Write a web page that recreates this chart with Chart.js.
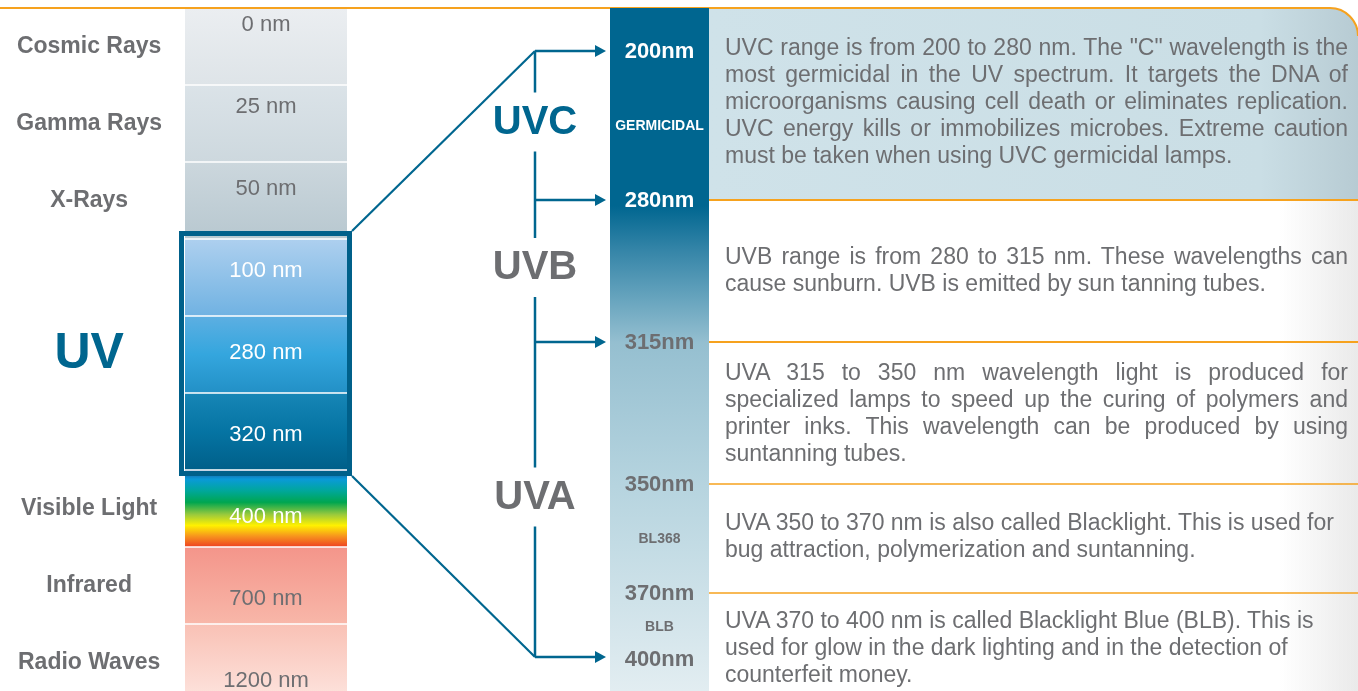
<!DOCTYPE html>
<html>
<head>
<meta charset="utf-8">
<script src="https://cdn.jsdelivr.net/npm/chart.js@4.4.1/dist/chart.umd.min.js"></script>
<style>
html,body{margin:0;padding:0;width:1358px;height:691px;overflow:hidden;background:#fff;}
#wrapA{position:absolute;left:0;top:0;width:1358px;height:701px;z-index:1;}
#wrapB{position:absolute;left:0;top:0;width:1358px;height:691px;z-index:2;}
.desc{position:absolute;left:725px;width:623px;font-family:'Liberation Sans',Arial,sans-serif;font-size:23px;line-height:27px;color:#6d6e71;z-index:3;}
.desc .j{text-align:justify;text-align-last:justify;}
.desc .l{text-align:left;}
</style>
</head>
<body>
<div id="wrapA"><canvas id="cA"></canvas></div>
<div id="wrapB"><canvas id="cB"></canvas></div>
<div id="texts"></div>
<script>
// ---------------- DATA ----------------
const spectrumBands = ['Cosmic Rays','Gamma Rays','X-Rays','UV','UV','UV','Visible Light','Infrared','Radio Waves'];
const bandWavelengths = ['0 nm','25 nm','50 nm','100 nm','280 nm','320 nm','400 nm','700 nm','1200 nm'];
const bandFill = [1,1,1,1,1,1,1,1,1];

const uvBandNames = ['UVC','UVB','UVA','UVA','UVA'];
const uvBandRanges = [[200,280],[280,315],[315,350],[350,370],[370,400]];
const uvTickValues = [200,280,315,350,370,400];
const uvTickLabels = ['200nm','280nm','315nm','350nm','370nm','400nm'];
const uvSubLabels = ['GERMICIDAL','BL368','BLB'];
const uvGroupNames = ['UVC','UVB','UVA'];

const uvcDescription = [
  'UVC range is from 200 to 280 nm. The "C" wavelength is the',
  'most germicidal in the UV spectrum. It targets the DNA of',
  'microorganisms causing cell death or eliminates replication.',
  'UVC energy kills or immobilizes microbes. Extreme caution',
  'must be taken when using UVC germicidal lamps.'
];
const uvbDescription = [
  'UVB range is from 280 to 315 nm. These wavelengths can',
  'cause sunburn. UVB is emitted by sun tanning tubes.'
];
const uva1Description = [
  'UVA 315 to 350 nm wavelength light is produced for',
  'specialized lamps to speed up the curing of polymers and',
  'printer inks. This wavelength can be produced by using',
  'suntanning tubes.'
];
const blDescription = [
  'UVA 350 to 370 nm is also called Blacklight. This is used for',
  'bug attraction, polymerization and suntanning.'
];
const blbDescription = [
  'UVA 370 to 400 nm is called Blacklight Blue (BLB). This is',
  'used for glow in the dark lighting and in the detection of',
  'counterfeit money.'
];

// ---------------- STYLE / LAYOUT ----------------
const FONT = "'Liberation Sans', Arial, sans-serif";
const GRAY = '#6d6e71';
const BLUE = '#00668f';
const ORANGE = '#f6a21e';
const bandColors = [
  [[0,'#ebeef1'],[1,'#dee4e8']],
  [[0,'#dbe3e8'],[1,'#cdd8de']],
  [[0,'#ccd7dd'],[1,'#b8c8d0']],
  [[0,'#aed0ef'],[1,'#70b2e2']],
  [[0,'#5dafe2'],[0.5,'#34a6de'],[1,'#2290c6']],
  [[0,'#1786b6'],[0.5,'#0574a3'],[1,'#005f89']],
  [[0,'#1d4f95'],[0.12,'#0a9ad8'],[0.27,'#00a79b'],[0.42,'#00a650'],[0.58,'#9bca3c'],[0.72,'#fff100'],[0.86,'#f7941d'],[1,'#ee4023']],
  [[0,'#f4958a'],[1,'#f8b7a9']],
  [[0,'#f9c1b5'],[1,'#fde4de']]
];
const whiteLabelBands = [3,4,5,6];
const uvRowHeights = [192,142,142,109,98];
const columnStops = [[0,'#006690'],[0.29,'#006690'],[0.355,'#3585a8'],[0.43,'#6aa6bf'],[0.49,'#95bfd0'],[0.70,'#b6d4df'],[1,'#e2edf1']];
const descJustify = [true,true,true,false,false];
const descTops = [33.5,242.5,358.5,508.5,606.5];

// ---------------- DESCRIPTIONS (HTML text) ----------------
const descs = [uvcDescription,uvbDescription,uva1Description,blDescription,blbDescription];
const textsEl = document.getElementById('texts');
descs.forEach((lines,b)=>{
  const d = document.createElement('div');
  d.className='desc';
  d.style.top = descTops[b]+'px';
  lines.forEach((ln,i)=>{
    const s = document.createElement('div');
    s.className = (descJustify[b] && i<lines.length-1) ? 'j' : 'l';
    s.textContent = ln;
    d.appendChild(s);
  });
  textsEl.appendChild(d);
});

// ---------------- CUSTOM PIECEWISE SCALE ----------------
class StopsScale extends Chart.LinearScale {
  _fracs(){
    const tot = uvRowHeights.reduce((a,b)=>a+b,0);
    const f=[0]; let acc=0;
    uvRowHeights.forEach(h=>{acc+=h; f.push(acc/tot);});
    return f;
  }
  getPixelForValue(value){
    const v = uvTickValues, f = this._fracs();
    let i=0; while(i<v.length-2 && value>v[i+1]) i++;
    const t=(value-v[i])/(v[i+1]-v[i]);
    return this.getPixelForDecimal(f[i]+t*(f[i+1]-f[i]));
  }
  getValueForPixel(pixel){
    const d=this.getDecimalForPixel(pixel), v=uvTickValues, f=this._fracs();
    let i=0; while(i<f.length-2 && d>f[i+1]) i++;
    return v[i]+(d-f[i])/(f[i+1]-f[i])*(v[i+1]-v[i]);
  }
}
StopsScale.id='stops';
StopsScale.defaults=Chart.LinearScale.defaults;
Chart.register(StopsScale);

// ---------------- CHART A : spectrum column ----------------
function bandGradient(ctx){
  const i = ctx.dataIndex;
  if(i===undefined) return '#ccc';
  const chart=ctx.chart;
  if(!chart.chartArea) return bandColors[i][0][1];
  const y=chart.scales.y;
  const h=Math.abs(y.getPixelForValue(1)-y.getPixelForValue(0));
  const c=y.getPixelForValue(i);
  const g=chart.ctx.createLinearGradient(0,c-h/2,0,c+h/2);
  bandColors[i].forEach(s=>g.addColorStop(s[0],s[1]));
  return g;
}
const uvIdx = spectrumBands.map((b,i)=>b==='UV'?i:-1).filter(i=>i>=0);
const uvMid = uvIdx[Math.floor(uvIdx.length/2)];

const spectrumPlugin = {
  id:'spectrumOverlay',
  afterDatasetsDraw(chart){
    const ctx=chart.ctx, y=chart.scales.y, ca=chart.chartArea;
    const h=Math.abs(y.getPixelForValue(1)-y.getPixelForValue(0));
    const cx=(ca.left+ca.right)/2;
    ctx.save();
    ctx.font='22px '+FONT; ctx.textAlign='center'; ctx.textBaseline='middle';
    bandWavelengths.forEach((t,i)=>{
      const py=y.getPixelForValue(i)+(i-uvMid)*5-1.5;
      ctx.fillStyle = whiteLabelBands.includes(i)?'#ffffff':GRAY;
      ctx.fillText(t,cx,py);
    });
    // UV frame
    const t=y.getPixelForValue(uvIdx[0])-h/2, b=y.getPixelForValue(uvIdx[uvIdx.length-1])+h/2;
    ctx.strokeStyle='#00608a'; ctx.lineWidth=5;
    ctx.strokeRect(ca.left-3.5, t-5.5, (ca.right+2.5)-(ca.left-3.5), (b+3.5)-(t-5.5));
    ctx.restore();
  }
};

const chartA = new Chart(document.getElementById('cA'),{
  type:'bar',
  data:{labels:spectrumBands,datasets:[{
    data:bandFill, backgroundColor:bandGradient, borderColor:'#ffffff',
    borderWidth:{top:1,bottom:1,left:0,right:0}, borderSkipped:false,
    barPercentage:1, categoryPercentage:1
  }]},
  options:{
    indexAxis:'y', responsive:true, maintainAspectRatio:false, animation:false, events:[],
    layout:{padding:{top:8,right:1011,left:0,bottom:0}},
    plugins:{legend:{display:false},tooltip:{enabled:false}},
    scales:{
      x:{type:'linear',min:0,max:1,display:false},
      y:{type:'category',grid:{display:false,drawTicks:false},border:{display:false},
        ticks:{autoSkip:false,crossAlign:'center',padding:23,
          color:c=>c.index===uvMid?BLUE:GRAY,
          font:c=>c.index===uvMid?{family:FONT,size:50,weight:'bold'}:{family:FONT,size:23,weight:'bold'},
          callback:function(v,i){const l=this.getLabelForValue(v);return (l==='UV'&&i!==uvMid)?'':l;}
        },
        afterFit(s){s.width=185; s.paddingTop=0; s.paddingBottom=0;}
      }
    }
  },
  plugins:[spectrumPlugin]
});

// ---------------- CHART B : UV detail column ----------------
function columnGradient(ctx){
  const chart=ctx.chart, ca=chart.chartArea;
  if(!ca) return '#006690';
  const g=chart.ctx.createLinearGradient(0,ca.top,0,ca.bottom);
  columnStops.forEach(s=>g.addColorStop(s[0],s[1]));
  return g;
}

function tickYs(y){
  return uvTickValues.map((v,i)=>{
    let p=y.getPixelForValue(v);
    if(i===0) p+=43;
    if(i===uvTickValues.length-1) p-=32;
    return p;
  });
}

const uvPlugin = {
  id:'uvOverlay',
  beforeDatasetsDraw(chart){
    const ctx=chart.ctx, y=chart.scales.y, ca=chart.chartArea;
    const x0=ca.right, x1=chart.width;
    const yT=y.getPixelForValue(uvBandRanges[0][0]), yB=y.getPixelForValue(uvBandRanges[0][1]);
    ctx.save();
    const r=28;
    const g=ctx.createLinearGradient(x0,0,x1,0);
    g.addColorStop(0,'#cfe2e9'); g.addColorStop(0.85,'#cadee5'); g.addColorStop(1,'#b7cbd3');
    ctx.fillStyle=g;
    ctx.beginPath(); ctx.moveTo(x0,yT); ctx.lineTo(x1-r,yT); ctx.arcTo(x1,yT,x1,yT+r,r);
    ctx.lineTo(x1,yB); ctx.lineTo(x0,yB); ctx.closePath(); ctx.fill();
    const g2=ctx.createLinearGradient(1280,0,x1,0);
    g2.addColorStop(0,'rgba(234,234,234,0)'); g2.addColorStop(1,'rgba(234,234,234,1)');
    ctx.fillStyle=g2; ctx.fillRect(1280,yB,x1-1280,chart.height-yB);
    ctx.strokeStyle=ORANGE; ctx.lineWidth=2;
    ctx.beginPath(); ctx.moveTo(0,yT); ctx.lineTo(x1-r,yT); ctx.arcTo(x1,yT,x1,yT+r,r); ctx.stroke();
    uvBandRanges.slice(1).forEach((rg,i)=>{
      const py=Math.round(y.getPixelForValue(rg[0]));
      ctx.lineWidth = i<2?2:1.5;
      ctx.beginPath(); ctx.moveTo(x0,py); ctx.lineTo(x1,py); ctx.stroke();
    });
    ctx.restore();
  },
  afterDatasetsDraw(chart){
    const ctx=chart.ctx, y=chart.scales.y, ca=chart.chartArea;
    const cx=(ca.left+ca.right)/2;
    const ty=tickYs(y);
    ctx.save();
    ctx.textAlign='center'; ctx.textBaseline='middle';
    ctx.font='bold 22px '+FONT;
    uvTickLabels.forEach((t,i)=>{
      ctx.fillStyle = i<2?'#ffffff':GRAY;
      ctx.fillText(t,cx,ty[i]+1);
    });
    const subPairs=[[0,1],[3,4],[4,5]];
    uvSubLabels.forEach((t,k)=>{
      const [a,b]=subPairs[k];
      ctx.font='bold 14px '+FONT;
      ctx.fillStyle = k===0?'#ffffff':GRAY;
      ctx.fillText(t,cx,(ty[a]+ty[b])/2+1);
    });
    const sx=535, tip=ca.left-4;
    const groupBounds=[[0,1],[1,2],[2,5]];
    const arrowIdx=[0,1,2,5];
    ctx.strokeStyle=BLUE; ctx.fillStyle=BLUE; ctx.lineWidth=2.5;
    const gaps=groupBounds.map(([a,b])=>(ty[a]+ty[b])/2-4);
    let start=ty[0];
    gaps.forEach(gc=>{
      ctx.beginPath(); ctx.moveTo(sx,start); ctx.lineTo(sx,gc-29); ctx.stroke();
      start=gc+30;
    });
    ctx.beginPath(); ctx.moveTo(sx,start); ctx.lineTo(sx,ty[5]-2); ctx.stroke();
    arrowIdx.forEach(i=>{
      const py = i===5?ty[i]-2:ty[i];
      ctx.beginPath(); ctx.moveTo(sx,py); ctx.lineTo(tip-10,py); ctx.stroke();
      ctx.beginPath(); ctx.moveTo(tip,py); ctx.lineTo(tip-11,py-6); ctx.lineTo(tip-11,py+6); ctx.closePath(); ctx.fill();
    });
    ctx.font='bold 40px '+FONT;
    uvGroupNames.forEach((n,k)=>{
      ctx.fillStyle = k===0?BLUE:GRAY;
      ctx.fillText(n,sx,gaps[k]+1);
    });
    const ay=chartA.scales.y, aca=chartA.chartArea;
    const h=Math.abs(ay.getPixelForValue(1)-ay.getPixelForValue(0));
    const ft=ay.getPixelForValue(uvIdx[0])-h/2-8, fb=ay.getPixelForValue(uvIdx[uvIdx.length-1])+h/2+6;
    const fx=aca.right+5;
    ctx.lineWidth=2.2; ctx.strokeStyle=BLUE;
    ctx.beginPath(); ctx.moveTo(fx,ft); ctx.lineTo(sx,ty[0]); ctx.stroke();
    ctx.beginPath(); ctx.moveTo(fx,fb); ctx.lineTo(sx,ty[5]-2); ctx.stroke();
    ctx.restore();
  }
};

const chartB = new Chart(document.getElementById('cB'),{
  type:'bar',
  data:{labels:['UV'],datasets:uvBandRanges.map((rg,i)=>({
    label:uvBandNames[i], data:[rg], backgroundColor:columnGradient,
    borderWidth:0, grouped:false, barPercentage:1, categoryPercentage:1
  }))},
  options:{
    responsive:true, maintainAspectRatio:false, animation:false, events:[],
    layout:{padding:{top:8,right:649,left:610,bottom:0}},
    plugins:{legend:{display:false},tooltip:{enabled:false}},
    scales:{
      x:{type:'category',display:false},
      y:{type:'stops',min:200,max:400,reverse:true,display:false}
    }
  },
  plugins:[uvPlugin]
});
</script>
</body>
</html>
